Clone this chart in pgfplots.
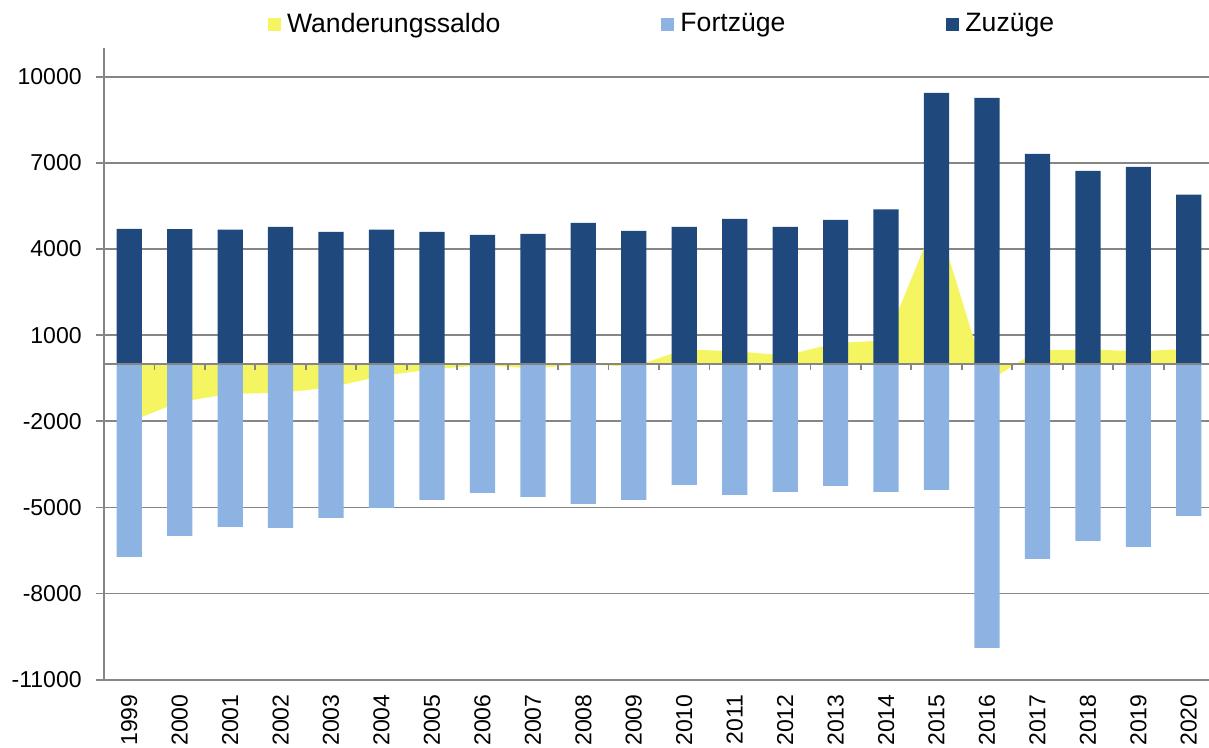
\documentclass[border=0pt]{standalone}
\usepackage{pgfplots}
\pgfplotsset{compat=1.18}
\usepackage{fontspec}
\setmainfont{Liberation Sans}
\definecolor{zuz}{RGB}{31,73,125}
\definecolor{fort}{RGB}{141,179,226}
\definecolor{saldo}{RGB}{245,245,98}
\definecolor{gridc}{RGB}{134,134,134}
\begin{document}
\begin{tikzpicture}
\begin{axis}[
  scale only axis, width=552.5pt, height=315.85pt,
  xmin=-0.5, xmax=21.4, ymin=-11000, ymax=11000,
  axis lines*=left,
  axis line style={gridc, line width=0.9pt},
  scaled y ticks=false,
  ytick={-11000,-8000,-5000,-2000,1000,4000,7000,10000},
  yticklabels={-11000,-8000,-5000,-2000,1000,4000,7000,10000},
  ymajorgrids, grid style={gridc, line width=0.9pt},
  xtick={0,...,21},
  xticklabels={1999,2000,2001,2002,2003,2004,2005,2006,2007,2008,2009,2010,2011,2012,2013,2014,2015,2016,2017,2018,2019,2020},
  x tick style={draw=none},
  y tick style={gridc, line width=0.9pt},
  tick align=outside, major tick length=4pt,
  xticklabel style={rotate=90, anchor=east, inner sep=0pt, font=\fontsize{11.5}{12}\selectfont, xshift=-3.25pt},
  yticklabel style={anchor=east, inner sep=0pt, font=\fontsize{11.5}{12}\selectfont, xshift=-7pt},
  legend columns=3,
  legend style={draw=none, fill=none, at={(0.5069,1)}, anchor=center, yshift=12pt,
    font=\fontsize{13.3}{15}\selectfont,
    /tikz/every even column/.append style={column sep=77.5pt},
    nodes={inner xsep=3pt}},
  legend image code/.code={\fill[#1] (0pt,-3.35pt) rectangle (6.5pt,3.15pt);},
]
% Wanderungssaldo (area)
\addplot[fill=saldo, draw=none] coordinates {
 (0,0) (0,-2020) (1,-1330) (2,-1045) (3,-1010) (4,-820) (5,-420) (6,-190) (7,-50)
 (8,-160) (9,-20) (10,-100) (11,500) (12,440) (13,290) (14,720) (15,820)
 (16,5100) (17,-640) (18,470) (19,500) (20,440) (21,520) (21,0)};
% Fortzuege
\addplot[ybar, bar width=0.5, bar shift=0pt, fill=fort, draw=none] coordinates {
 (0,-6722) (1,-5990) (2,-5677) (3,-5712) (4,-5364) (5,-5016) (6,-4737) (7,-4493)
 (8,-4632) (9,-4876) (10,-4737) (11,-4214) (12,-4563) (13,-4458) (14,-4249) (15,-4458)
 (16,-4389) (17,-9892) (18,-6792) (19,-6165) (20,-6374) (21,-5294)};
% Zuzuege
\addplot[ybar, bar width=0.5, bar shift=0pt, fill=zuz, draw=none] coordinates {
 (0,4700) (1,4690) (2,4670) (3,4770) (4,4600) (5,4670) (6,4600) (7,4490)
 (8,4530) (9,4910) (10,4630) (11,4770) (12,5050) (13,4770) (14,5015) (15,5380)
 (16,9440) (17,9265) (18,7315) (19,6720) (20,6860) (21,5890)};
\legend{Wanderungssaldo, Fortzüge, Zuzüge}
\draw[gridc, line width=0.9pt] (axis cs:-0.5,0) -- (axis cs:21.4,0);
\pgfplotsinvokeforeach{0,...,20}{
  \draw[gridc, line width=0.9pt] (axis cs:#1.5,0) -- ++(0pt,-3pt);
}
\end{axis}
\pgfresetboundingbox
\path[use as bounding box] ([xshift=-52pt,yshift=-33.75pt]current axis.south west) rectangle ([yshift=24pt]current axis.north east);
\end{tikzpicture}
\end{document}
